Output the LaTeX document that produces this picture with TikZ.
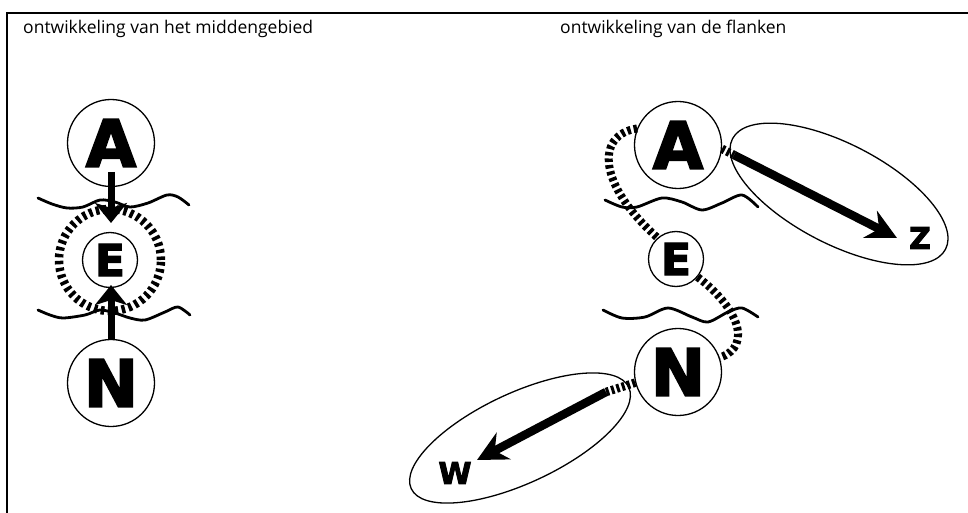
\documentclass[tikz,border=0pt]{standalone}
\usepackage{fontspec}
\setmainfont{Open Sans}
\newfontfamily\heavy[FakeBold=3]{DejaVu Sans Bold}
\usetikzlibrary{arrows.meta,shapes.geometric}
\tikzset{
  frameline/.style={line width=2pt},
  title/.style={anchor=base west, inner sep=0pt, font=\fontsize{17.5}{17.5}\selectfont},
  bigcirc/.style={circle, draw, line width=1.3pt, inner sep=0pt, minimum size=87pt,
     font=\heavy\fontsize{65}{65}\selectfont},
  smallcirc/.style={circle, draw, line width=1.3pt, inner sep=0pt, minimum size=55pt,
     font=\heavy\fontsize{44}{44}\selectfont},
  wave/.style={line width=2.8pt, line cap=round},
  ring/.style={line width=8.5pt, dash pattern=on 3.5pt off 3.5pt},
  dashcurve/.style={line width=8pt, dash pattern=on 3.5pt off 3pt},
  thickarrow/.style={line width=7pt, -{Stealth[length=20pt,width=32pt,inset=5pt]}},
  longarrow/.style={line width=8.5pt, -{Stealth[length=30pt,width=30pt,inset=10pt]}},
  shortdash/.style={line width=8.5pt, dash pattern=on 3pt off 2.5pt},
  zone/.style={ellipse, draw, line width=1.3pt, inner sep=0pt},
  dirlabel/.style={inner sep=0pt, font=\heavy\fontsize{30}{30}\selectfont}
}
\begin{document}
\begin{tikzpicture}[x=1pt,y=-1pt]
\useasboundingbox (0,0) rectangle (968,513);
% frame
\coordinate (fa) at (7,513);
\coordinate (fb) at (7,13);
\coordinate (fc) at (968,13);
\draw[frameline] (fa) -- (fb) -- (fc);
% titles
\node[title] (t1) at (23,34) {ontwikkeling van het middengebied};
\node[title] (t2) at (560,34) {ontwikkeling van de flanken};

% ---------- left diagram ----------
\draw[wave] plot[smooth] coordinates {(38,198) (52,204) (67,208) (83,207) (100,200) (115,202) (130,207) (148,203) (167,195) (178,197) (189,205)};
\draw[wave] plot[smooth] coordinates {(38,310) (50,315) (63,318) (85,315) (100,310) (115,313) (130,318) (145,320) (165,312) (178,307) (190,315)};
\node[bigcirc] (A1) at (111,143) {A};
\node[smallcirc] (E1) at (110,260) {E};
\node[bigcirc] (N1) at (111,383) {N};
\draw[ring] (E1.center) circle[radius=51pt];
\coordinate (a1s) at (111,172);
\coordinate (a1t) at (111,223);
\coordinate (n1s) at (111,340);
\coordinate (n1t) at (111,285);
\draw[thickarrow] (a1s) -- (a1t);
\draw[thickarrow] (n1s) -- (n1t);

% ---------- right diagram ----------
\draw[wave] plot[smooth] coordinates {(605,200) (622,207) (637,207) (662,198) (682,202) (702,210) (722,203) (742,195) (758,207)};
\draw[wave] plot[smooth] coordinates {(603,310) (622,318) (645,317) (668,308) (692,317) (708,322) (728,312) (742,308) (758,317)};
\node[bigcirc] (A2) at (678,145) {A};
\node[smallcirc] (E2) at (676,259) {E};
\node[bigcirc] (N2) at (678,372) {N};
\draw[dashcurve] (A2.158) .. controls (595,135) and (598,185) .. (E2.131);
\draw[dashcurve] (E2.-40) .. controls (735,305) and (755,345) .. (N2.19);
% zones
\node[zone, minimum width=240pt, minimum height=100pt, rotate=-27.4] (Z) at (839,194) {};
\node[zone, minimum width=240pt, minimum height=90pt, rotate=25] (W) at (520,438) {};
% arrows to Z and W
\coordinate (zs) at (734,155);
\coordinate (zt) at (897,238);
\draw[shortdash] (A2.-5) -- (zs);
\draw[longarrow] (zs) -- (zt);
\coordinate (ws) at (606,392);
\coordinate (wt) at (477,460);
\draw[shortdash] (N2.194) -- (ws);
\draw[longarrow] (ws) -- (wt);
\node[dirlabel] (zl) at (920,238) {Z};
\node[dirlabel] (wl) at (455,473) {W};
\end{tikzpicture}
\end{document}
